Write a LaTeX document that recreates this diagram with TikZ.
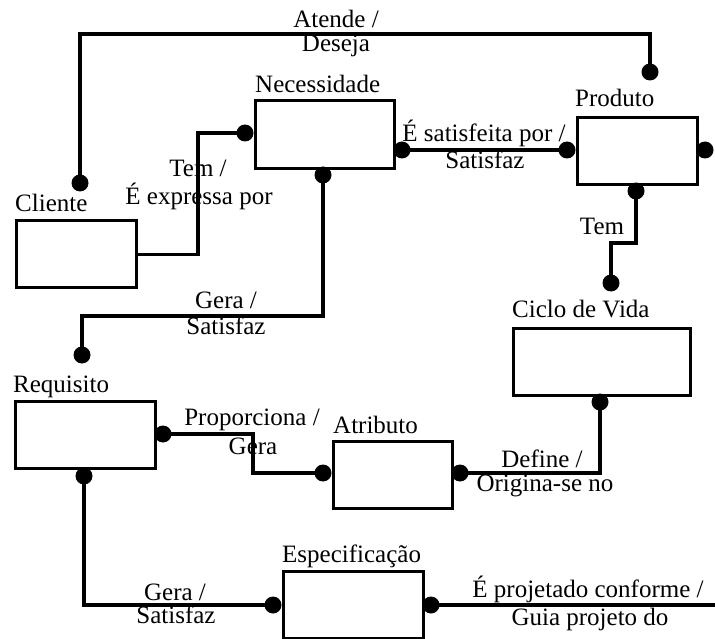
\documentclass[tikz,border=0pt]{standalone}
\usepackage{fontspec}
\setmainfont{Liberation Serif}
\usetikzlibrary{calc}
\begin{document}
\begin{tikzpicture}[x=1pt,y=-1pt,
  box/.style={draw, line width=3.4pt, anchor=north west, inner sep=0pt},
  dot/.style={circle, fill=black, inner sep=0pt, minimum size=17pt},
  link/.style={line width=3.1pt},
  lbl/.style={anchor=base, inner sep=0pt, font=\fontsize{25}{28}\selectfont},
  ttl/.style={anchor=base west, inner sep=0pt, font=\fontsize{25}{28}\selectfont}]
\useasboundingbox (0,0) rectangle (715,639);

% entity boxes
\node[box, minimum width=120pt, minimum height=67pt] (cli) at (15,219) {};
\node[box, minimum width=139pt, minimum height=68pt] (nec) at (254,99) {};
\node[box, minimum width=120pt, minimum height=67pt] (pro) at (576,116) {};
\node[box, minimum width=177pt, minimum height=67pt] (cic) at (512,327) {};
\node[box, minimum width=140pt, minimum height=67pt] (req) at (14,400) {};
\node[box, minimum width=119pt, minimum height=67pt] (atr) at (332,440) {};
\node[box, minimum width=140pt, minimum height=67pt] (esp) at (282,570) {};

% entity titles
\node[ttl] (tcli) at (15,212) {Cliente};
\node[ttl] (tnec) at (255,93) {Necessidade};
\node[ttl] (tpro) at (575,107) {Produto};
\node[ttl] (tcic) at (512,317) {Ciclo de Vida};
\node[ttl] (treq) at (13,392) {Requisito};
\node[ttl] (tatr) at (333,433) {Atributo};
\node[ttl] (tesp) at (282,562) {Especificação};

% relationship end points
\node[dot] (dclin) at (80,183) {};
\node[dot] (dnecw) at (245,133) {};
\node[dot] (dnece) at (402,150) {};
\node[dot] (dnecs) at (323,175) {};
\node[dot] (dpron) at (650,72) {};
\node[dot] (dprow) at (567,150) {};
\node[dot] (dproe) at (705,150) {};
\node[dot] (dpros) at (636,191) {};
\node[dot] (dcicn) at (611,283) {};
\node[dot] (dcics) at (600,402) {};
\node[dot] (dreqn) at (82,355) {};
\node[dot] (dreqe) at (163,434) {};
\node[dot] (dreqs) at (84,476) {};
\node[dot] (datrw) at (323,473) {};
\node[dot] (datre) at (460,473) {};
\node[dot] (despw) at (273,605) {};
\node[dot] (despe) at (431,605) {};

% routing levels
\coordinate (yA) at (0,34);
\coordinate (xB) at (198,0);
\coordinate (yT) at (0,243);
\coordinate (yG) at (0,316);
\coordinate (xP) at (253,0);
\coordinate (xR) at (715,0);

% relationships
\draw[link] (dclin.center) -- (dclin.center |- yA) -| (dpron.center);
\draw[link] (cli.east) -- (cli.east -| xB) |- (dnecw.center);
\draw[link] (dnece.center) -- (dprow.center);
\draw[link] (dpros.center) -- (dpros.center |- yT) -| (dcicn.center);
\draw[link] (dnecs.center) -- (dnecs.center |- yG) -| (dreqn.center);
\draw[link] (dreqe.center) -- (dreqe.center -| xP) |- (datrw.center);
\draw[link] (dreqs.center) |- (despw.center);
\draw[link] (datre.center) -| (dcics.center);
\draw[link] (despe.center) -- (despe.center -| xR);

% relationship labels
\node[lbl] (l1a) at (336,28) {Atende /};
\node[lbl] (l1b) at (336,52) {Deseja};
\node[lbl] (l2a) at (198,177) {Tem /};
\node[lbl] (l2b) at (199,205) {É expressa por};
\node[lbl] (l3a) at (484,142) {É satisfeita por /};
\node[lbl] (l3b) at (485,169) {Satisfaz};
\node[lbl] (l4) at (602,235) {Tem};
\node[lbl] (l5a) at (226,308) {Gera /};
\node[lbl] (l5b) at (226,334) {Satisfaz};
\node[lbl] (l6a) at (252,425) {Proporciona /};
\node[lbl] (l6b) at (253,454) {Gera};
\node[lbl] (l7a) at (175,600) {Gera /};
\node[lbl] (l7b) at (176,623) {Satisfaz};
\node[lbl] (l8a) at (542,467) {Define /};
\node[lbl] (l8b) at (545,491) {Origina-se no};
\node[lbl] (l9a) at (588,597) {É projetado conforme /};
\node[lbl] (l9b) at (590,625) {Guia projeto do};
\end{tikzpicture}
\end{document}
